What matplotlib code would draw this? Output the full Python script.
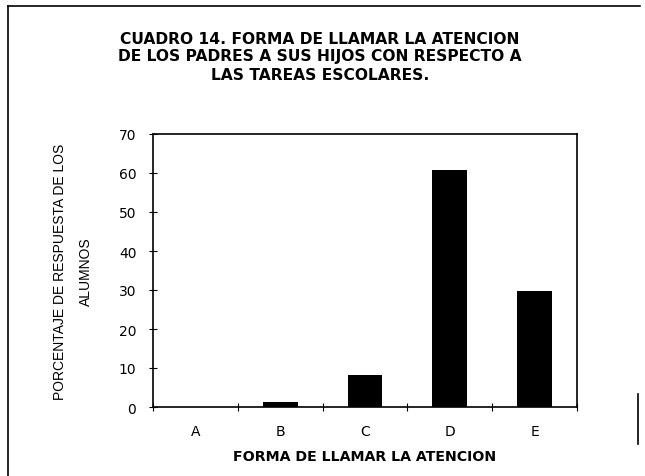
import matplotlib
matplotlib.use("Agg")
import matplotlib.pyplot as plt
from matplotlib.lines import Line2D

categories = ["A", "B", "C", "D", "E"]
values = [0, 1.4, 8.2, 60.8, 29.7]
yticks = [0, 10, 20, 30, 40, 50, 60, 70]

plt.rcParams['font.family'] = ['DejaVu Sans']

fig = plt.figure(figsize=(6.45, 4.77), dpi=100)
ax = fig.add_axes([153 / 645, 1 - 408 / 477, (577 - 153) / 645, (408 - 135) / 477])

x_pos = [i + 0.5 for i in range(len(categories))]
ax.bar(x_pos, values, width=0.41, color="black")

ax.set_xlim(0, len(categories))
ax.set_ylim(0, 70)
ax.set_yticks(yticks)
ax.set_xticks(range(len(categories) + 1))
ax.set_xticklabels([])
ax.set_xticks(x_pos, minor=True)
ax.set_xticklabels(categories, minor=True)
ax.tick_params(axis="x", which="minor", length=0, pad=12, labelsize=10)
ax.tick_params(axis="x", which="major", direction="inout", length=6)
ax.tick_params(axis="y", direction="inout", length=6, labelsize=10, pad=9)
for s in ax.spines.values():
    s.set_linewidth(1.2)

ax.set_xlabel("FORMA DE LLAMAR LA ATENCION", fontsize=10.2, fontweight="bold", labelpad=8)

fig.text(320 / 645, 1 - 57 / 477,
         "CUADRO 14. FORMA DE LLAMAR LA ATENCION\nDE LOS PADRES A SUS HIJOS CON RESPECTO A\nLAS TAREAS ESCOLARES.",
         ha="center", va="center", fontsize=11.2, fontweight="bold", linespacing=1.25)

fig.text(73 / 645, 1 - 272 / 477, "PORCENTAJE DE RESPUESTA DE LOS\nALUMNOS",
         rotation=90, ha="center", va="center", fontsize=10,
         family=['Liberation Sans', 'DejaVu Sans'], linespacing=2.0)

# marco exterior (escaneado: arriba, izquierda y un trozo a la derecha)
for xs, ys in [((8, 640), (7, 7)), ((8, 8), (7, 477)), ((638, 638), (395, 445))]:
    fig.lines.append(Line2D([x / 645 for x in xs], [1 - y / 477 for y in ys],
                            transform=fig.transFigure, color="black", linewidth=1.2))

plt.savefig("out.png", dpi=100)
